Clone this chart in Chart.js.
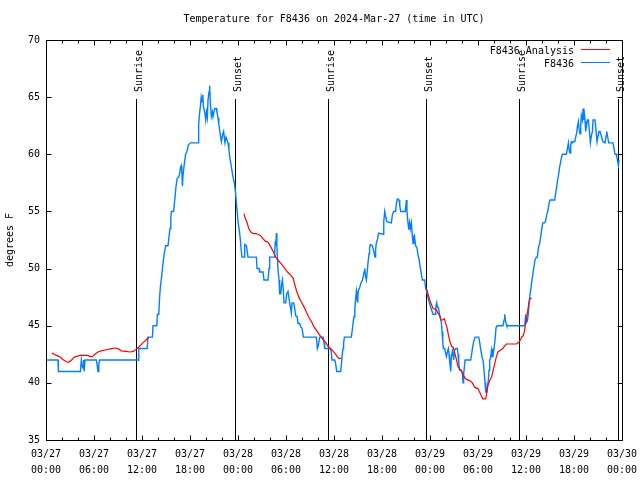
<!DOCTYPE html>
<html><head><meta charset="utf-8">
<script src="https://cdn.jsdelivr.net/npm/chart.js@4.4.1/dist/chart.umd.min.js"></script>
<style>html,body{margin:0;padding:0;background:#fff;} #wrap{width:640px;height:480px;}</style>
</head><body><div id="wrap"><canvas id="c" width="640" height="480"></canvas></div>
<script>
const FONT = '"DejaVu Sans Mono", "Liberation Mono", monospace';
const titleText = 'Temperature for F8436 on 2024-Mar-27 (time in UTC)';
const yAxisLabel = 'degrees F';
const xTickDays = ['03/27','03/27','03/27','03/27','03/28','03/28','03/28','03/28','03/29','03/29','03/29','03/29','03/30'];
const xTickTimes = ['00:00','06:00','12:00','18:00','00:00','06:00','12:00','18:00','00:00','06:00','12:00','18:00','00:00'];
const sunLabels = ['Sunrise','Sunset','Sunrise','Sunset','Sunrise','Sunset'];
const sunHours = [11.25, 23.63, 35.25, 47.5, 59.13, 71.5];
const seriesNames = ['F8436 Analysis', 'F8436'];
const seriesColors = ['#ff0000', '#0080ff'];

// hours since 03/27 00:00 UTC
const stationHours = [0.1,1.5,1.55,4.3,4.42,4.55,4.63,4.7,4.76,4.88,6.3,6.4,6.5,6.6,6.7,11.5,11.6,12.65,12.75,13.3,13.38,13.85,13.92,14.1,14.2,14.3,14.45,14.63,14.8,14.96,15.25,15.38,15.5,15.6,15.67,15.95,16.05,16.15,16.25,16.4,16.6,16.7,16.8,16.9,16.98,17.05,17.13,17.3,17.45,17.6,17.8,18.05,19.0,19.08,19.2,19.3,19.4,19.5,19.6,19.67,19.84,19.96,20.05,20.17,20.25,20.38,20.46,20.54,20.67,20.8,20.88,21.08,21.29,21.37,21.5,21.6,21.75,21.92,22.1,22.2,22.37,22.5,22.75,22.87,23.0,23.17,23.38,23.5,23.58,
23.7,23.8,23.9,24.0,24.15,24.3,24.4,24.5,24.75,24.84,25.05,25.15,25.25,26.3,26.38,26.63,26.7,27.13,27.25,27.75,27.88,27.96,28.5,28.59,28.67,28.72,28.8,28.86,28.92,29.0,29.13,29.21,29.35,29.42,29.55,29.67,29.75,29.96,30.09,30.25,30.38,30.5,30.59,30.67,30.75,30.96,31.09,31.21,31.3,31.4,31.5,31.71,31.84,32.0,32.17,33.8,33.92,34.05,34.21,34.67,34.75,34.84,35.59,35.67,35.75,36.09,36.2,36.34,36.84,36.95,37.05,37.13,37.2,37.3,38.17,38.28,38.38,38.5,38.6,38.7,38.8,38.86,38.92,38.98,39.05,39.2,39.35,39.55,39.65,39.75,39.84,39.95,40.05,40.15,40.25,40.38,40.45,40.55,40.8,40.9,41.13,41.2,41.28,41.45,41.59,42.13,42.22,42.34,42.45,42.6,43.17,43.3,43.46,43.7,43.8,43.92,44.13,44.22,44.34,44.92,45.05,45.12,45.25,45.35,45.45,45.55,45.67,45.78,45.88,45.97,46.05,46.2,46.38,46.5,46.65,46.8,46.95,47.05,47.34,47.45,47.55,47.7,47.9,48.13,48.38,48.63,48.72,48.84,48.93,49.05,49.17,49.3,49.42,49.5,49.59,49.67,49.84,49.92,50.05,50.17,50.3,50.38,50.46,50.59,50.67,50.8,50.88,50.96,51.05,51.21,51.42,51.5,51.59,51.71,51.92,52.05,52.13,52.21,52.3,52.38,53.09,53.2,53.3,53.46,53.63,54.09,54.2,54.3,54.42,54.55,54.63,54.75,54.88,54.96,55.09,55.17,55.3,55.38,55.46,55.58,55.67,55.75,55.84,55.92,56.0,56.13,56.25,56.38,57.13,57.25,57.34,57.42,57.5,57.59,59.84,59.96,60.05,60.17,60.3,60.38,60.5,60.63,60.75,60.88,61.0,61.13,61.3,61.42,61.55,61.71,61.84,61.96,62.09,62.34,62.46,62.59,62.75,62.88,63.0,63.59,63.71,63.84,63.96,64.09,64.21,64.34,64.46,64.55,65.05,65.17,65.3,65.38,65.5,65.59,65.67,65.8,65.88,66.09,66.21,66.34,66.42,66.55,66.63,66.75,66.84,66.92,67.05,67.13,67.21,67.3,67.38,67.46,67.59,67.67,67.8,67.92,68.05,68.17,68.3,68.38,68.63,68.75,68.88,69.0,69.13,69.25,69.38,69.5,69.63,69.88,70.0,70.09,70.21,70.34,70.88,71.0,71.13,71.3,71.42,71.55,71.63];
const stationTemps = [42,42,41,41,42,41.4,41.3,42,41,42,42,41.5,41,41.7,42,42,43,43,44,44,45,45,46,46,47.5,48.4,49.3,50.5,51.4,52,52,52.8,53.5,54.4,55,55,55.7,56.4,57.2,57.9,58,58.3,58.8,59,58.5,57.2,58.2,59.2,60,60.2,60.8,61,61,62.6,63.6,64.2,65,64.6,65.2,64.2,63.7,63,63.7,63.2,64.75,65.5,66,64.5,63.3,63.7,63.3,64,64,63.7,63.2,62.6,61.9,61.1,61.8,62,61,61.5,61,60.4,59.6,58.9,58,57.6,57.3,
56.6,55.7,55,54.1,53.4,52.5,51.6,51,51,52.1,52,51.5,51,51,50,50,49.7,49.7,49,49,50,51,51,51.6,52.4,52,53.1,52,51,49.9,49,47.8,47.8,48.4,49,48.1,47,47,47.8,48,47.4,46.8,46.5,46.1,47,47,46.5,45.9,45.8,45.8,45.2,45.2,44.9,44.8,44,44,43,43.3,44,44,43.5,43,43,42.6,42,42,41.7,41,41,41.8,42.6,43,43.5,44,44,44.6,45.2,45.8,46.5,47.3,48,47.6,47.1,47.6,48.1,48.3,48.7,49,49.3,49.7,50,49.3,49,49.7,50.5,51.3,51.8,52.1,52,51.7,51,51.6,52.2,52.6,53.1,53,54.1,55,54.6,54.1,54,54.7,55,55,55.7,56.1,56,55.5,55,55,56,55,54,53.4,54,53.5,54,53,52.2,52.8,52.9,52,51.8,51.2,50.75,50,49.4,49,49,48.3,48.1,47.6,47.1,46.5,46,46,46.6,47,46.6,46.6,46.1,45.6,45.3,44.5,43.6,43,43,42.7,42.3,42.7,43,42.5,41.85,41,42.2,42.8,42.5,42,42.8,43,43,42.5,41.7,41.1,41.1,40.8,40,40.8,41.4,42,42,42.5,43,43.6,44,44,43.6,43.1,42.6,42.1,42,41.1,40,39.2,39.2,39.7,40.25,41.1,42,42.2,42.8,42.3,43,42.6,43,43.75,44.8,45,45,45.5,46,45.5,45.2,45,45,46,45.3,45.4,46.1,47,47.7,48.4,49,49.6,50.2,50.75,51,51,51.8,52.2,52.8,53.4,54,54,54.2,54.7,55.1,55.7,56,56,56.6,57.2,57.75,58.3,58.9,59.35,59.8,60,60,60.5,61,60.4,60.1,60.8,61.1,61,61.1,61.1,61.5,61.9,62.4,62.85,62.2,61.8,62.6,63.4,63,64,63,63.5,62.9,62,62.6,63,63,62.1,61,61.6,62,63,63,62.1,61.1,61.6,62,62,61.7,61.4,61.1,61,61.6,62,61.5,61,61,60.5,60,60,59.5,59,59.5];

const analysisHours = [0.75,1.3,1.7,2.1,2.55,2.84,3.2,3.45,3.7,4.3,5.25,5.5,5.8,6.1,6.5,6.9,7.55,8.2,8.6,9.0,9.4,10.0,10.5,10.9,11.3,11.7,12.1,12.5,12.85,
18,
24.75,24.9,25.1,25.35,25.6,25.9,26.2,26.5,26.8,27.1,27.4,27.75,28.1,28.4,28.7,29.0,29.3,29.75,30.2,30.6,30.9,31.1,31.3,31.6,31.9,32.25,32.55,32.8,33.2,33.5,33.9,34.2,34.6,35.0,35.25,35.7,36.1,36.4,36.6,36.9,
42,
47.6,47.9,48.1,48.38,48.8,49.0,49.2,49.4,49.6,49.8,49.96,50.1,50.3,50.5,50.7,50.9,51.1,51.3,51.5,51.7,51.9,52.1,52.3,52.55,52.96,53.3,53.6,54.0,54.2,54.4,54.6,54.96,55.1,55.25,55.5,55.7,55.9,56.1,56.3,56.5,56.7,57.1,57.3,57.55,58.8,59.1,59.3,59.5,59.65,59.8,59.9,60.05,60.17,60.3,60.42,60.55,60.7];
const analysisTemps = [42.6,42.4,42.3,42.05,41.85,41.8,42,42.2,42.3,42.4,42.4,42.3,42.3,42.5,42.7,42.8,42.9,43,43.05,43,42.8,42.75,42.7,42.75,42.95,43.2,43.5,43.75,44,
null,
54.8,54.4,54.1,53.5,53.2,53.05,53.05,53.0,52.9,52.65,52.4,52.3,51.9,51.5,51.0,50.75,50.5,50.1,49.7,49.4,49.15,48.6,48.1,47.5,47.1,46.65,46.2,45.8,45.35,44.9,44.5,44.2,43.8,43.5,43.2,42.9,42.6,42.3,42.15,42.15,
null,
48.2,47.4,47.0,46.5,46.4,46.1,45.9,45.5,45.5,45.6,45.2,44.9,44.2,43.6,43.2,43.1,42.6,42.05,41.4,41.2,41.1,40.8,40.5,40.3,40.2,40,39.6,39.5,39.2,38.9,38.6,38.6,39.1,39.8,40.25,40.5,41.1,41.7,42.3,42.7,42.8,43.0,43.2,43.4,43.4,43.55,43.75,44.05,44.1,44.5,45,45.5,46.1,46.7,47.2,47.4,47.4];

const toPts = (hs, ts) => hs.map((h, i) => ({x: h, y: ts[i]}));

const decor = {
  id: 'decor',
  beforeDatasetsDraw(chart) {
    const {ctx, chartArea: a, scales: {x}} = chart;
    ctx.save();
    ctx.strokeStyle = '#000'; ctx.lineWidth = 1;
    ctx.font = '10px ' + FONT; ctx.fillStyle = '#000';
    sunHours.forEach((h, i) => {
      const px = Math.round(x.getPixelForValue(h)) + 0.5;
      ctx.beginPath(); ctx.moveTo(px, a.top + 59); ctx.lineTo(px, a.bottom); ctx.stroke();
      ctx.save();
      ctx.translate(px + 5, a.top + 52);
      ctx.rotate(-Math.PI / 2);
      ctx.textAlign = 'left'; ctx.textBaseline = 'alphabetic';
      ctx.fillText(sunLabels[i], 0, 0);
      ctx.restore();
    });
    ctx.restore();
  },
  afterDraw(chart) {
    const {ctx, chartArea: a, scales: {x, y}} = chart;
    ctx.save();
    ctx.strokeStyle = '#000'; ctx.lineWidth = 1;
    const L = Math.round(a.left) + 0.5, R = Math.round(a.right) + 0.5, T = Math.round(a.top) + 0.5, B = Math.round(a.bottom) + 0.5;
    ctx.strokeRect(L, T, R - L, B - T);
    ctx.beginPath();
    x.ticks.forEach(t => {
      const px = Math.round(x.getPixelForValue(t.value)) + 0.5;
      const len = (t.value % 6 === 0) ? 5 : 3;
      ctx.moveTo(px, B); ctx.lineTo(px, B - len);
      ctx.moveTo(px, T); ctx.lineTo(px, T + len);
    });
    y.ticks.forEach(t => {
      const py = Math.round(y.getPixelForValue(t.value)) + 0.5;
      ctx.moveTo(L, py); ctx.lineTo(L + 5, py);
      ctx.moveTo(R, py); ctx.lineTo(R - 5, py);
    });
    ctx.stroke();
    ctx.fillStyle = '#000';
    ctx.font = '10px ' + FONT;
    ctx.textAlign = 'center'; ctx.textBaseline = 'middle';
    ctx.fillText(titleText, (a.left + a.right) / 2, 19);
    ctx.save();
    ctx.translate(10, (a.top + a.bottom) / 2);
    ctx.rotate(-Math.PI / 2);
    ctx.fillText(yAxisLabel, 0, 0);
    ctx.restore();
    // legend
    chart.data.datasets.forEach((ds, i) => {
      const ly = a.top + 10 + i * 13;
      ctx.textAlign = 'right'; ctx.textBaseline = 'middle';
      ctx.fillStyle = '#000';
      ctx.fillText(ds.label, 574, ly + 1);
      ctx.strokeStyle = ds.borderColor; ctx.lineWidth = 1;
      ctx.beginPath(); ctx.moveTo(581, ly - 0.5); ctx.lineTo(610, ly - 0.5); ctx.stroke();
    });
    ctx.restore();
  }
};

new Chart(document.getElementById('c'), {
  type: 'line',
  data: {
    datasets: [
      {label: seriesNames[0], data: toPts(analysisHours, analysisTemps), borderColor: seriesColors[0], borderWidth: 1.2, pointRadius: 0, tension: 0, spanGaps: false, fill: false},
      {label: seriesNames[1], data: toPts(stationHours, stationTemps), borderColor: seriesColors[1], borderWidth: 1.4, pointRadius: 0, tension: 0, fill: false}
    ]
  },
  options: {
    responsive: false, animation: false, devicePixelRatio: 1,
    layout: {padding: {top: 40, right: 18, left: 0, bottom: 0}},
    plugins: {legend: {display: false}, title: {display: false}, tooltip: {enabled: false}},
    scales: {
      x: {
        type: 'linear', min: 0, max: 72,
        grid: {display: false, drawTicks: false, tickLength: 0}, border: {display: false},
        ticks: {
          stepSize: 2, autoSkip: false, maxRotation: 0, minRotation: 0, padding: 6,
          color: '#000', font: {family: FONT, size: 10, lineHeight: 1.6},
          callback: v => (v % 6 === 0) ? [xTickDays[v / 6], xTickTimes[v / 6]] : ''
        },
        afterFit: s => { s.height = 40; s.paddingLeft = 0; s.paddingRight = 0; }
      },
      y: {
        min: 35, max: 70,
        grid: {display: false, drawTicks: false, tickLength: 0}, border: {display: false},
        ticks: {stepSize: 5, padding: 6, color: '#000', font: {family: FONT, size: 10}},
        afterFit: s => { s.width = 46; }
      }
    }
  },
  plugins: [decor]
});
</script>
</body></html>
